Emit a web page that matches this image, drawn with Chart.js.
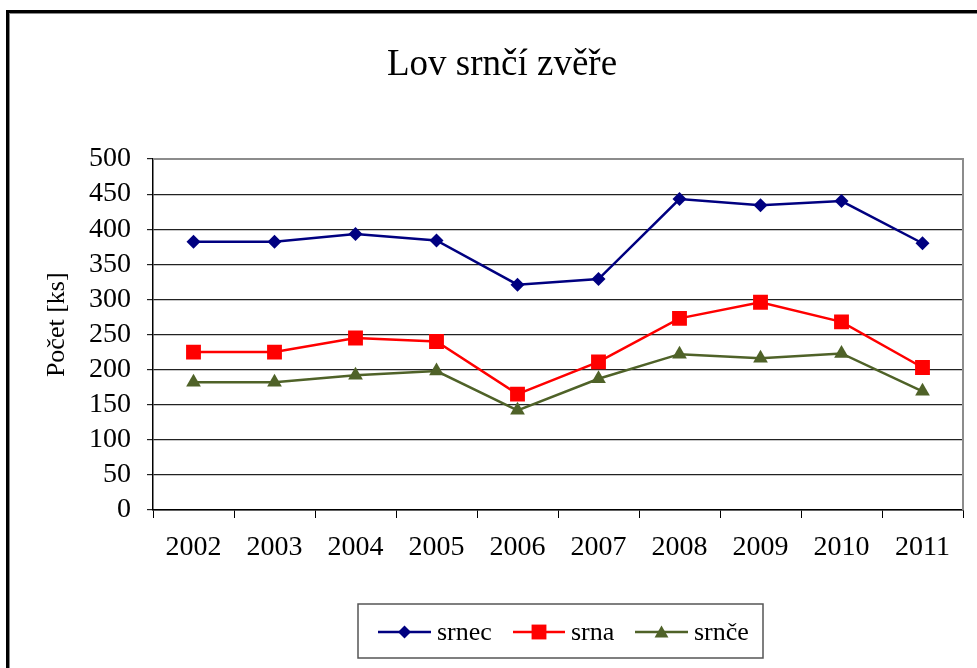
<!DOCTYPE html>
<html>
<head>
<meta charset="utf-8">
<script src="https://cdn.jsdelivr.net/npm/chart.js"></script>
<style>
  html, body { margin: 0; padding: 0; background: #fff; }
  #wrap { width: 977px; height: 668px; position: relative; }
  canvas { display: block; }
</style>
</head>
<body>
<div id="wrap"><canvas id="c" width="977" height="668"></canvas></div>
<script>
const years = ['2002','2003','2004','2005','2006','2007','2008','2009','2010','2011'];
const srnec = [382, 382, 393, 384, 321, 329, 443, 434, 440, 380];
const srna  = [225, 225, 245, 240, 165, 211, 273, 296, 268, 203];
const srnce = [182, 182, 192, 198, 142, 187, 222, 216, 223, 169];
const yTicks = [0, 50, 100, 150, 200, 250, 300, 350, 400, 450, 500];
const seriesNames = ['srnec', 'srna', 'srnče'];

const SERIF = "'Liberation Serif', 'DejaVu Serif', serif";
const colors = ['#000080', '#FF0000', '#4F6228'];
const styles = ['rectRot', 'rect', 'triangle'];
const radii = [7, 10.5, 8.5];

function drawMarker(ctx, style, x, y, r, color) {
  ctx.save();
  ctx.fillStyle = color;
  ctx.beginPath();
  if (style === 'rectRot') {
    ctx.moveTo(x, y - r); ctx.lineTo(x + r, y); ctx.lineTo(x, y + r); ctx.lineTo(x - r, y);
  } else if (style === 'rect') {
    const s = r * Math.SQRT1_2;
    ctx.rect(x - s, y - s, 2 * s, 2 * s);
  } else {
    ctx.moveTo(x, y - r);
    ctx.lineTo(x + r * Math.sin(2 * Math.PI / 3), y + r * 0.5);
    ctx.lineTo(x - r * Math.sin(2 * Math.PI / 3), y + r * 0.5);
  }
  ctx.closePath();
  ctx.fill();
  ctx.restore();
}

const framePlugin = {
  id: 'frame',
  beforeDraw(chart) {
    const ctx = chart.ctx;
    ctx.save();
    ctx.fillStyle = '#fff';
    ctx.fillRect(0, 0, chart.width, chart.height);
    // outer border (left + top)
    ctx.fillStyle = '#000';
    ctx.fillRect(6, 10, 3, 658);
    ctx.fillRect(6, 10, 971, 3);
    ctx.fillStyle = '#888';
    ctx.fillRect(9, 13, 1, 655);
    ctx.fillRect(9, 13, 968, 1);
    ctx.restore();
  },
  beforeDatasetsDraw(chart) {
    const ctx = chart.ctx;
    const a = chart.chartArea;
    ctx.save();
    ctx.strokeStyle = '#8c8c8c';
    ctx.lineWidth = 2;
    ctx.beginPath();
    ctx.moveTo(a.left, a.top);
    ctx.lineTo(a.right, a.top);
    ctx.lineTo(a.right, a.bottom);
    ctx.stroke();
    ctx.restore();
  },
  afterDraw(chart) {
    const ctx = chart.ctx;
    ctx.save();
    // legend box
    ctx.strokeStyle = '#555';
    ctx.lineWidth = 1.5;
    ctx.strokeRect(358, 604, 405, 54);
    const items = [
      { x1: 378, x2: 431, tx: 437 },
      { x1: 513, x2: 565, tx: 571 },
      { x1: 635, x2: 688, tx: 694 }
    ];
    const ly = 632;
    ctx.font = '26px ' + SERIF;
    ctx.textBaseline = 'middle';
    ctx.textAlign = 'left';
    items.forEach((it, i) => {
      ctx.strokeStyle = colors[i];
      ctx.lineWidth = 2.5;
      ctx.beginPath();
      ctx.moveTo(it.x1, ly); ctx.lineTo(it.x2, ly);
      ctx.stroke();
      const mr = i === 0 ? 6.5 : (i === 1 ? 10.5 : 8);
      drawMarker(ctx, styles[i], (it.x1 + it.x2) / 2, ly + (i === 2 ? 1.5 : 0), mr, colors[i]);
      ctx.fillStyle = '#000';
      ctx.fillText(seriesNames[i], it.tx, ly + 1);
    });
    ctx.restore();
  }
};

const datasets = [srnec, srna, srnce].map((d, i) => ({
  label: seriesNames[i],
  data: d,
  borderColor: colors[i],
  backgroundColor: colors[i],
  borderWidth: 2.5,
  pointStyle: styles[i],
  pointRadius: radii[i],
  pointHoverRadius: radii[i],
  pointBorderWidth: 0,
  pointBackgroundColor: colors[i],
  tension: 0,
  fill: false
}));

new Chart(document.getElementById('c'), {
  type: 'line',
  data: { labels: years, datasets },
  plugins: [framePlugin],
  options: {
    responsive: false,
    animation: false,
    devicePixelRatio: 1,
    layout: { padding: { left: 41, right: 14, top: 11, bottom: 100 } },
    plugins: {
      legend: { display: false },
      tooltip: { enabled: false },
      title: {
        display: true,
        text: 'Lov srnčí zvěře',
        color: '#000',
        font: { family: SERIF, size: 37, weight: 'normal', lineHeight: 1.2 },
        padding: { top: 32, bottom: 71.6 }
      }
    },
    scales: {
      x: {
        type: 'category',
        offset: true,
        afterFit(scale) { scale.height = 58; },
        grid: {
          offset: true,
          drawOnChartArea: false,
          drawTicks: true,
          tickLength: 8,
          color: '#000',
          lineWidth: 1
        },
        border: { display: true, color: '#000', width: 1.5 },
        ticks: {
          color: '#000',
          padding: 13,
          maxRotation: 0,
          autoSkip: false,
          font: { family: SERIF, size: 28 }
        }
      },
      y: {
        min: 0,
        max: 500,
        afterFit(scale) { scale.width = 112; },
        afterBuildTicks(scale) { scale.ticks = yTicks.map(v => ({ value: v })); },
        grid: {
          color: '#222',
          lineWidth: 1.2,
          drawTicks: true,
          tickLength: 6
        },
        border: { display: true, color: '#000', width: 1.5 },
        ticks: {
          color: '#000',
          padding: 16,
          autoSkip: false,
          font: { family: SERIF, size: 28, lineHeight: 1.0 }
        },
        title: {
          display: true,
          text: '\u00A0\u00A0\u00A0Počet [ks]',
          color: '#000',
          font: { family: SERIF, size: 26 },
          padding: { top: 1, bottom: 0 }
        }
      }
    }
  }
});
</script>
</body>
</html>
